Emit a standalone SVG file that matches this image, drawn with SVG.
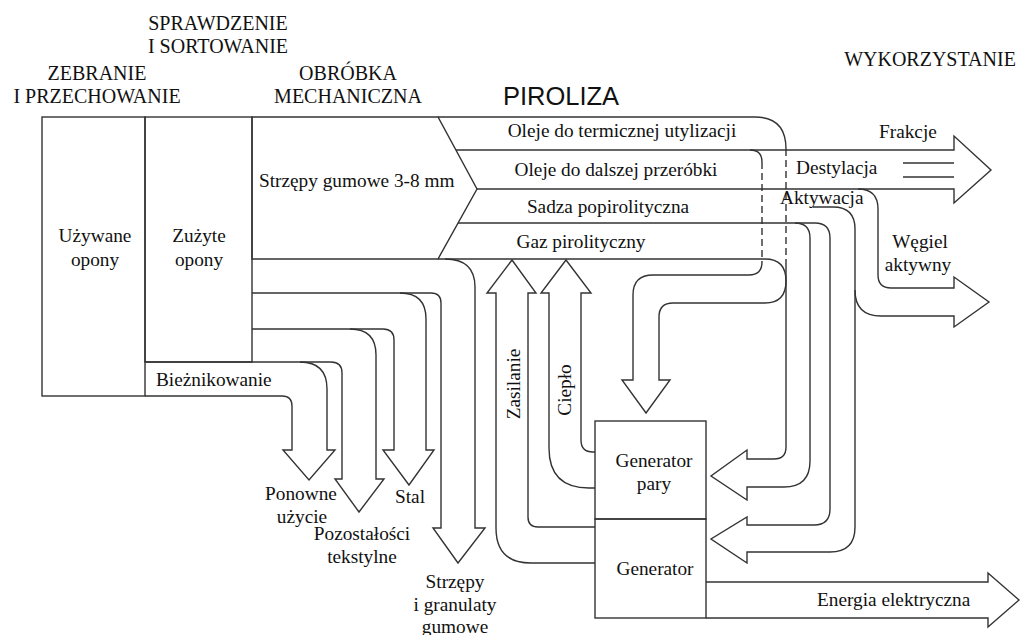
<svg xmlns="http://www.w3.org/2000/svg" width="1021" height="635" viewBox="0 0 1021 635" font-family="Liberation Serif, Times New Roman, DejaVu Serif, serif">
<style>
.l{fill:none;stroke:#333;stroke-width:1.4}
.d{fill:none;stroke:#333;stroke-width:1.4;stroke-dasharray:7 4}
.box{fill:none;stroke:#333;stroke-width:1.4}
text{font-size:19.3px;fill:#111}
.h{font-size:20px}
.c{text-anchor:middle}
.p{font-size:25.5px}
</style>
<rect width="1021" height="635" fill="#fff"/>
<g id="headers">
<text class="h c" x="218" y="30">SPRAWDZENIE</text>
<text class="h c" x="218" y="53">I SORTOWANIE</text>
<text class="h c" x="97" y="80">ZEBRANIE</text>
<text class="h c" x="97" y="103">I PRZECHOWANIE</text>
<text class="h c" x="348" y="80">OBRÓBKA</text>
<text class="h c" x="348" y="103">MECHANICZNA</text>
<text class="p c" x="561" y="105" font-family="Liberation Sans, Arial, sans-serif">PIROLIZA</text>
<text class="h c" x="930" y="66">WYKORZYSTANIE</text>
</g>
<g id="uzywane">
<rect class="box" x="42" y="117" width="103" height="279"/>
<text class="c" x="95" y="242">Używane</text>
<text class="c" x="95" y="266">opony</text>
</g>
<g id="zuzyte">
<rect class="box" x="145" y="117" width="107" height="245"/>
<text class="c" x="199" y="242">Zużyte</text>
<text class="c" x="199" y="266">opony</text>
</g>
<g id="obrobka">
<path class="box" d="M252,117 L438,117 L477,189 L438,259 L252,259 Z"/>
<text x="259" y="187">Strzępy gumowe 3-8 mm</text>
</g>
<g id="generator-pary">
<rect class="box" x="595" y="421" width="111" height="98"/>
<text class="c" x="654" y="467">Generator</text>
<text class="c" x="654" y="490">pary</text>
</g>
<g id="generator">
<rect class="box" x="595" y="519" width="111" height="99"/>
<text class="c" x="655" y="575">Generator</text>
</g>
<g id="connectors">
<path class="l" d="M145,396 L282,396 Q292,396 292,406 L292,450 L283,450 L309,480 L335,450 L327,450 L327,389 Q327,362 300,362"/>
<path class="l" d="M145,362 L331,362 Q342,362 342,373 L342,479 L335,479 L359,512 L384,479 L376,479 L376,355 Q376,329 350,329"/>
<path class="l" d="M252,329 L383,329 Q394,329 394,340 L394,450 L383,450 L409,485 L434,450 L426,450 L426,319 Q426,293 400,293"/>
<path class="l" d="M252,293 L431,293 Q441,293 441,303 L441,528 L433,528 L458,563 L485,528 L475,528 L475,287 Q475,259 445,259"/>
<path class="l" d="M438,117 L755,117 Q786,117 786,149"/>
<path class="d" d="M786,149 L786,260"/>
<path class="l" d="M750,150 Q762,150 762,162"/>
<path class="d" d="M762,162 L762,262"/>
<path class="l" d="M438,259 L765,259 Q786,259 786,281 Q786,303 765,303 L673,303 Q659,303 659,317 L659,380 L670,380 L646,413 L622,380 L633,380 L633,295 Q633,275 653,275 L749,275 Q762,275 762,262"/>
<path class="l" d="M456,150 L954,150 L954,136 L991,170 L954,203 L954,189 L477,189"/>
<path class="l" d="M903,163 L954,163 M903,177 L954,177"/>
<path class="l" d="M858,189 Q878,189 878,209 L878,275 Q878,288 891,288 L954,288 L954,277 L989,302 L954,327 L954,316 L881,316 Q855,316 855,290"/>
<path class="l" d="M458,223 L795,223 Q810,223 810,238 L810,461 Q810,487 784,487 L747,487 L747,500 L711,476 L747,450 L747,459 L774,459 Q786,459 786,447 L786,260"/>
<path class="l" d="M795,223 L815,223 Q830,223 830,238 L830,509 Q830,525 814,525 L747,525 L747,517 L711,539 L747,563 L747,552 L830,552 Q855,552 855,527 L855,229 Q855,207 833,207 L813,207"/>
<path class="l" d="M595,452 L593,452 Q581,452 581,440 L581,293 L591,293 L566,260 L541,293 L549,293 L549,448 Q549,488 589,488 L595,488"/>
<path class="l" d="M595,527 L538,527 Q528,527 528,517 L528,293 L536,293 L512,260 L487,293 L496,293 L496,528 Q496,563 531,563 L595,563"/>
<path class="l" d="M706,582 L988,582 L988,573 L1019,600 L988,627 L988,618 L706,618"/>
</g>
<g id="labels">
<text x="156" y="386">Bieżnikowanie</text>
<text class="c" x="301" y="500">Ponowne</text>
<text class="c" x="302" y="523">użycie</text>
<text class="c" x="362" y="540">Pozostałości</text>
<text class="c" x="362" y="563">tekstylne</text>
<text class="c" x="410" y="503">Stal</text>
<text class="c" x="455" y="588">Strzępy</text>
<text class="c" x="455" y="611">i granulaty</text>
<text class="c" x="455" y="633">gumowe</text>
<text class="c" x="622" y="137">Oleje do termicznej utylizacji</text>
<text class="c" x="616" y="176">Oleje do dalszej przeróbki</text>
<text class="c" x="608" y="213">Sadza popirolityczna</text>
<text class="c" x="581" y="248">Gaz pirolityczny</text>
<text x="879" y="138">Frakcje</text>
<text x="796" y="174">Destylacja</text>
<text x="780" y="204">Aktywacja</text>
<text class="c" x="920" y="248">Węgiel</text>
<text class="c" x="918" y="271">aktywny</text>
<text class="c" transform="translate(520,384) rotate(-90)">Zasilanie</text>
<text class="c" transform="translate(571,390) rotate(-90)">Ciepło</text>
<text x="817" y="606">Energia elektryczna</text>
</g>
</svg>
